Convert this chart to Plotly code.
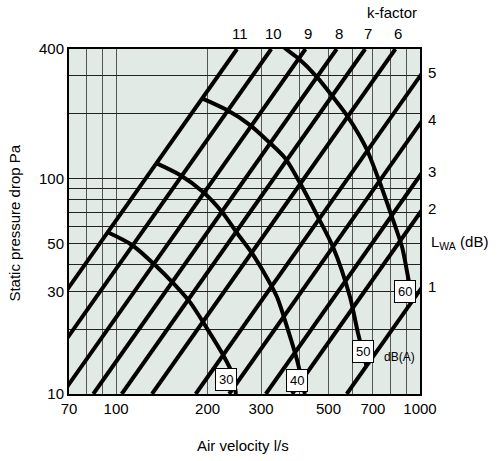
import numpy as np
import plotly.graph_objects as go

# Axis ticks and grid positions (airflow l/s, pressure Pa)
flow_ticks = [70, 100, 200, 300, 500, 700, 1000]
pressure_ticks = [10, 30, 50, 100, 400]
flow_grid = [80, 90, 100, 200, 300, 400, 500, 600, 700, 800, 900]
pressure_grid = [20, 30, 40, 50, 60, 70, 80, 90, 100, 200, 300]

# Damper setting lines: label and airflow (l/s) at 100 Pa
k_labels = ["11", "10", "9", "8", "7", "6", "5", "4", "3", "2", "1"]
k_flow_at_100pa = [125, 162, 210, 266, 330, 415, 578, 745, 983, 1200, 1815]

# Sound power level curves, dB(A)
db30_flow = [93.5, 112.8, 134.3, 153.9, 175, 200.7, 224.8, 240.7, 248]
db30_pressure = [56.5, 49.2, 39.7, 32.8, 26.7, 19.8, 15.2, 12.5, 10]

db40_flow = [135.5, 162.3, 193.3, 223.2, 250, 280, 313.8, 338.5, 367.9, 393.9, 418]
db40_pressure = [118, 103.9, 86.7, 70, 55.9, 45.1, 34.6, 28.2, 19.8, 14.4, 10]

db50_flow = [191, 231.8, 275.9, 321, 359.6, 402.9, 461.7, 517.3, 588.4, 625, 667]
db50_pressure = [236.7, 208.2, 177.4, 146.3, 124.6, 95.4, 66.3, 48.1, 28.2, 19.2, 13.5]

db60_flow = [341, 362.3, 396.8, 458.4, 517.3, 579.5, 625, 669.4, 738.5, 809, 873, 913.6, 934]
db60_pressure = [433, 400, 363, 296.3, 239.2, 193.2, 162.8, 135.8, 95.4, 66.3, 48.1, 34.9, 29.8]

FONT = "Liberation Sans, Arial, Helvetica, sans-serif"
X_MIN, X_MAX = 70, 1000
Y_MIN, Y_MAX = 10, 400

fig = go.Figure()
annotations = []

# Straight characteristic lines: p = 100 * (q / q100)^2
line_pressures = np.array([Y_MIN, Y_MAX], dtype=float)
for label, q100 in zip(k_labels, k_flow_at_100pa):
    q = q100 * np.sqrt(line_pressures / 100.0)
    fig.add_trace(go.Scatter(
        x=q, y=line_pressures, mode="lines",
        line=dict(color="black", width=4), hoverinfo="skip", showlegend=False,
    ))
    q_top = q100 * np.sqrt(Y_MAX / 100.0)
    if q_top <= X_MAX:
        # label above the top frame
        annotations.append(dict(
            x=np.log10(q_top), xref="x", y=1.0435, yref="paper",
            text=label, showarrow=False, xanchor="center", yanchor="middle",
            xshift=2.5, font=dict(family=FONT, size=15, color="black"),
        ))
    else:
        # label to the right of the frame
        p_right = 100.0 * (X_MAX / q100) ** 2
        annotations.append(dict(
            x=1.0356, xref="paper", y=np.log10(p_right), yref="y",
            text=label, showarrow=False, xanchor="center", yanchor="middle",
            yshift=4, font=dict(family=FONT, size=15, color="black"),
        ))

curves = [
    ("30", db30_flow, db30_pressure, -10, 14.5),
    ("40", db40_flow, db40_pressure, -7.5, 14),
    ("50", db50_flow, db50_pressure, -4, 14),
    ("60", db60_flow, db60_pressure, -6, 0),
]
for label, qs, ps, dx, dy in curves:
    fig.add_trace(go.Scatter(
        x=qs, y=ps, mode="lines",
        line=dict(color="black", width=4, shape="spline", smoothing=0.8),
        hoverinfo="skip", showlegend=False,
    ))
    annotations.append(dict(
        x=np.log10(qs[-1]), y=np.log10(ps[-1]), xref="x", yref="y",
        text=label, showarrow=False, xanchor="center", yanchor="middle",
        xshift=dx, yshift=dy, bgcolor="white", bordercolor="black",
        borderwidth=1, borderpad=3, font=dict(family=FONT, size=13, color="black"),
    ))

annotations.append(dict(
    x=np.log10(db50_flow[-1]), y=np.log10(db50_pressure[-1]), xref="x", yref="y",
    text="dB(A)", showarrow=False, xanchor="center", yanchor="middle",
    xshift=33, yshift=9, font=dict(family=FONT, size=12, color="black"),
))
annotations.append(dict(
    x=0.92, y=1.107, xref="paper", yref="paper", text="k-factor",
    showarrow=False, xanchor="center", yanchor="middle",
    font=dict(family=FONT, size=15, color="black"),
))
annotations.append(dict(
    x=1.0256, y=np.log10(50) + 0.005, xref="paper", yref="y",
    text="L<sub>WA</sub> (dB)", showarrow=False, xanchor="left", yanchor="middle",
    font=dict(family=FONT, size=15, color="black"),
))
annotations.append(dict(
    x=-0.1538, y=0.494, xref="paper", yref="paper", text="Static pressure drop Pa",
    textangle=-90, showarrow=False, xanchor="center", yanchor="middle",
    font=dict(family=FONT, size=15, color="black"),
))
annotations.append(dict(
    x=0.495, y=-0.148, xref="paper", yref="paper", text="Air velocity l/s",
    showarrow=False, xanchor="center", yanchor="middle",
    font=dict(family=FONT, size=15, color="black"),
))

axis_common = dict(
    type="log", showline=True, linecolor="black", linewidth=2, mirror=True,
    showgrid=False, zeroline=False, ticks="", fixedrange=True,
    tickfont=dict(family=FONT, size=15, color="black"),
)

fig.update_layout(
    width=497, height=461, autosize=False,
    margin=dict(l=69, r=77, t=49, b=67),
    paper_bgcolor="white", plot_bgcolor="#e1eae5",
    font=dict(family=FONT, size=15, color="black"),
    xaxis=dict(
        **axis_common,
        range=[np.log10(X_MIN), np.log10(X_MAX)],
        tickmode="array", tickvals=flow_ticks, ticktext=[str(v) for v in flow_ticks],
        minor=dict(tickmode="array", tickvals=flow_grid, showgrid=True,
                   gridcolor="#555555", gridwidth=1, ticks=""),
    ),
    yaxis=dict(
        **axis_common,
        range=[np.log10(Y_MIN), np.log10(Y_MAX)],
        tickmode="array", tickvals=pressure_ticks, ticktext=[str(v) for v in pressure_ticks],
        minor=dict(tickmode="array", tickvals=pressure_grid, showgrid=True,
                   gridcolor="#222222", gridwidth=1, ticks=""),
    ),
    annotations=annotations,
)

fig.write_html("out.html")
